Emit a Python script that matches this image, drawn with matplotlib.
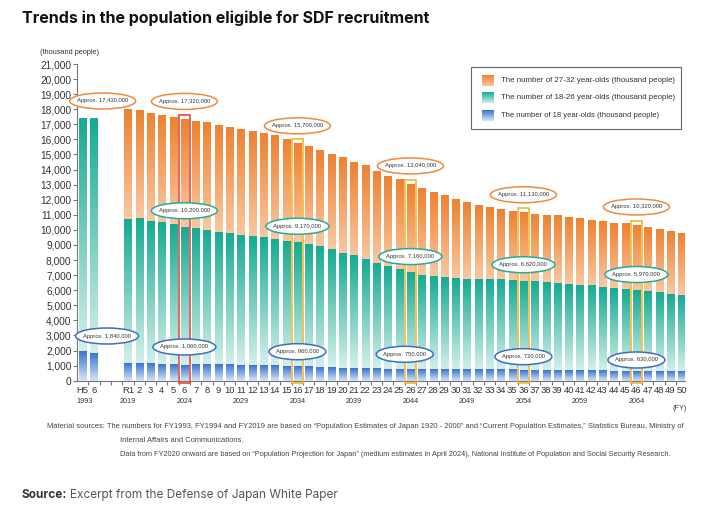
import numpy as np
import matplotlib
matplotlib.use("Agg")
import matplotlib.pyplot as plt
from matplotlib.colors import LinearSegmentedColormap
from matplotlib.patches import Ellipse, Rectangle
from matplotlib import font_manager

# 使用可用的字体
names = {f.name for f in font_manager.fontManager.ttflist}
NARROW = "Liberation Sans Narrow" if "Liberation Sans Narrow" in names else "Liberation Sans"
BOLD = "Inter" if "Inter" in names else "DejaVu Sans"
plt.rcParams["font.family"] = ["Liberation Sans", "DejaVu Sans"]

# ---- data (thousand people) ----
fy_heisei = ["H5", "6"]
fy_reiwa = ["R1"] + [str(i) for i in range(2, 51)]
year_labels = ["1993", "2019", "2024", "2029", "2034", "2039", "2044", "2049", "2054", "2059", "2064"]

heisei_18_26 = [17430, 17420]
heisei_18 = [1930, 1840]

total_18_32 = [17950, 17880, 17730, 17590, 17450, 17320, 17200, 17090, 16920, 16790,
               16660, 16570, 16430, 16250, 15990, 15700, 15500, 15250, 15000, 14780,
               14510, 14270, 13880, 13600, 13330, 13040, 12740, 12470, 12270, 12010,
               11810, 11640, 11450, 11320, 11230, 11130, 11030, 10960, 10900, 10810,
               10700, 10630, 10540, 10470, 10410, 10320, 10140, 10010, 9880, 9740]
age_18_26 = [10700, 10700, 10610, 10480, 10340, 10200, 10120, 9980, 9850, 9760,
             9640, 9560, 9470, 9370, 9270, 9170, 9040, 8870, 8690, 8480,
             8300, 8040, 7810, 7570, 7350, 7160, 7030, 6930, 6870, 6820,
             6770, 6760, 6730, 6720, 6680, 6620, 6590, 6520, 6450, 6400,
             6320, 6270, 6190, 6110, 6060, 5970, 5890, 5810, 5750, 5660]
age_18 = [1170, 1150, 1140, 1110, 1080, 1060, 1070, 1100, 1070, 1070,
          1060, 1040, 1010, 1000, 990, 960, 930, 910, 880, 860,
          840, 820, 800, 780, 760, 750, 740, 740, 740, 740,
          740, 730, 730, 730, 730, 720, 720, 710, 700, 700,
          690, 680, 670, 660, 650, 630, 630, 620, 610, 600]

highlight_idx = [5, 15, 25, 35, 45]

# ---- styles ----
W, H = 726, 507
ORANGE = ("#F9C7A0", "#EE8232")
TEAL = ("#D3EFEA", "#16AB92")
BLUE = ("#D6E5F7", "#3974D0")
cmaps = {k: LinearSegmentedColormap.from_list(k, v) for k, v in
         {"o": ORANGE, "t": TEAL, "b": BLUE}.items()}
grad = np.linspace(0, 1, 64).reshape(-1, 1)


def fx(px):
    return px / W


def fy(py):
    return 1 - py / H


fig = plt.figure(figsize=(W / 100, H / 100), dpi=100)
ax = fig.add_axes([fx(77), fy(380.7), fx(685) - fx(77), (380.7 - 64) / H])


def grad_bar(x, y0, y1, key, w=0.62):
    if y1 <= y0:
        return
    ax.imshow(grad, cmap=cmaps[key], origin="lower", aspect="auto",
              extent=[x - w / 2, x + w / 2, y0, y1], interpolation="bilinear", zorder=2)


xh = np.arange(len(fy_heisei))
xr = np.arange(len(fy_reiwa)) + 4

for x, t, b in zip(xh, heisei_18_26, heisei_18):
    grad_bar(x, b, t, "t")
    grad_bar(x, 0, b, "b")

for x, o, t, b in zip(xr, total_18_32, age_18_26, age_18):
    grad_bar(x, t, o, "o")
    grad_bar(x, b, t, "t")
    grad_bar(x, 0, b, "b")

ax.set_xlim(-0.504, 53.3)
ax.set_ylim(0, 21000)

# highlight boxes
for n, i in enumerate(highlight_idx):
    col = "#E8483B" if n == 0 else "#F5B52E"
    ax.add_patch(Rectangle((xr[i] - 0.5, -150), 1.0, total_18_32[i] + 450, fill=False,
                           edgecolor=col, lw=1.2, zorder=4, clip_on=False))

# ellipse labels
SLOT_PX = 11.3
UNIT_PX = 316.7 / 21000


def bubble(x, y, value, col):
    s = f"Approx. {value * 1000:,}"
    w = (3.0 * len(s) + 12) / SLOT_PX
    ax.add_patch(Ellipse((x, y), w, 16 / UNIT_PX, facecolor="white", edgecolor=col,
                         lw=1.1, zorder=5, clip_on=False))
    ax.text(x, y, s, ha="center", va="center", fontsize=4.2, family=[NARROW, "DejaVu Sans"],
            color="#333333", zorder=6)


OC, TC, BC = "#F08A3E", "#2AAA96", "#3C6FC0"
bubble(1.77, 18548, heisei_18_26[0], OC)
bubble(2.15, 2964, heisei_18[1], BC)
blue_label_y = [2235, 1923, 1751, 1592, 1373]
for i, by in zip(highlight_idx, blue_label_y):
    x = xr[i]
    bubble(x, total_18_32[i] + 1200, total_18_32[i], OC)
    bubble(x, age_18_26[i] + 1070, age_18_26[i], TC)
    bubble(x - (0.5 if i == 25 else 0), by, age_18[i], BC)

# axes styling
for s in ["top", "right"]:
    ax.spines[s].set_visible(False)
for s in ["left", "bottom"]:
    ax.spines[s].set_color("#777777")
    ax.spines[s].set_linewidth(0.8)
ax.set_yticks(np.arange(0, 21001, 1000))
ax.set_yticklabels([f"{v:,}" for v in range(0, 21001, 1000)])
ax.tick_params(axis="y", direction="out", length=3, width=0.8, color="#777777",
               labelsize=7.3, labelcolor="#333333", pad=1)
ax.set_xticks(np.arange(0, 53) + 0.5)
ax.set_xticklabels([])
ax.tick_params(axis="x", direction="out", length=3, width=0.8, color="#777777")

xt = ax.get_xaxis_transform()
row1 = -9.5 / 316.7
row2 = -20.5 / 316.7
for x, lab in zip(list(xh) + list(xr), fy_heisei + fy_reiwa):
    ax.text(x, row1, lab, transform=xt, ha="center", va="center", fontsize=6.8, color="#333333")
year_x = [0.2] + [xr[i] for i in range(0, 50, 5)]
for x, lab in zip(year_x, year_labels):
    ax.text(x, row2, lab, transform=xt, ha="center", va="center", fontsize=5.2,
            family=[NARROW, "DejaVu Sans"], color="#333333")

fig.text(fx(680), fy(409), "(FY)", ha="center", va="center", fontsize=5.2,
         family=[NARROW, "DejaVu Sans"], color="#333333")
fig.text(fx(40), fy(52), "(thousand people)", ha="left", va="center", fontsize=5.3,
         family=[NARROW, "DejaVu Sans"], color="#333333")

# legend
fig.patches.append(Rectangle((fx(471), fy(129)), fx(681) - fx(471), (129 - 66.7) / H,
                             transform=fig.transFigure, fill=False, edgecolor="#666666",
                             lw=0.8))
legend_items = [("o", "The number of 27-32 year-olds (thousand people)", 80.5),
                ("t", "The number of 18-26 year-olds (thousand people)", 97.5),
                ("b", "The number of 18 year-olds (thousand people)", 115.5)]
legend_texts = []
for key, lab, yc in legend_items:
    lax = fig.add_axes([fx(482), fy(yc + 5.5), 12 / W, 11 / H])
    lax.imshow(grad, cmap=cmaps[key], origin="lower", aspect="auto")
    lax.axis("off")
    legend_texts.append(fig.text(fx(500.5), fy(yc), lab, ha="left", va="center", fontsize=6,
                                 family=[NARROW, "DejaVu Sans"], color="#333333"))

# title and notes
title = fig.text(fx(22), fy(18), "Trends in the population eligible for SDF recruitment",
                 ha="left", va="center", fontsize=10.5, fontweight="bold",
                 family=[BOLD, "DejaVu Sans"], color="#111111")
note_kw = dict(ha="left", va="center", fontsize=5.3, family=[NARROW, "DejaVu Sans"],
               color="#444444")
n1 = fig.text(fx(47), fy(427), "Material sources: The numbers for FY1993, FY1994 and FY2019 are based on "
              "\u201cPopulation Estimates of Japan 1920 - 2000\u201d and \u201cCurrent Population "
              "Estimates,\u201d Statistics Bureau, Ministry of", **note_kw)
n2 = fig.text(fx(120), fy(441), "Internal Affairs and Communications.", **note_kw)
n3 = fig.text(fx(120), fy(454), "Data from FY2020 onward are based on \u201cPopulation Projection for "
              "Japan\u201d (medium estimates in April 2024), National Institute of Population "
              "and Social Security Research.", **note_kw)
src_b = fig.text(fx(22), fy(495), "Source:", ha="left", va="center", fontsize=8.5,
                 fontweight="bold", family=[BOLD, "DejaVu Sans"], color="#333333")

# 按参考图宽度调整字号
fig.canvas.draw()
r = fig.canvas.get_renderer()


def fit(t, target):
    bb = t.get_window_extent(r)
    t.set_fontsize(t.get_fontsize() * target / bb.width)


fit(title, 408)
fit(n1, 633)
fit(n3, 548)
n2.set_fontsize(n1.get_fontsize())
for t in legend_texts:
    fit(t, 175 if "18 year" not in t.get_text() else 160)
fig.canvas.draw()
bb = src_b.get_window_extent(r)
src_r = fig.text((bb.x1 + 3) / W, fy(495), "Excerpt from the Defense of Japan White Paper",
                 ha="left", va="center", fontsize=8.5, family=[BOLD, "DejaVu Sans"],
                 color="#555555")

fig.savefig("out.png", dpi=100, facecolor="white")
